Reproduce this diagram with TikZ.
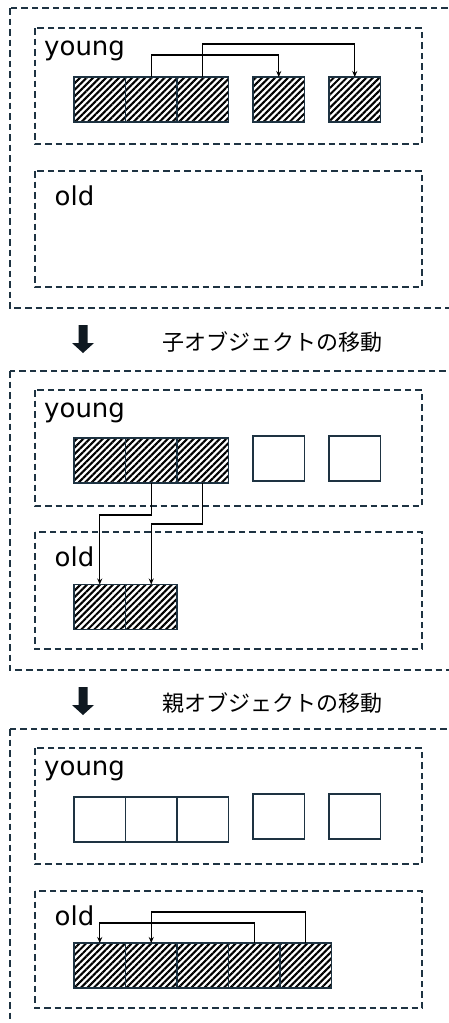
\documentclass[tikz,border=0pt]{standalone}
\usepackage{fontspec}
\setmainfont{DejaVu Sans}
\newfontfamily\jpfont{Noto Sans CJK JP}
\usetikzlibrary{patterns.meta,arrows.meta}
\definecolor{frame}{HTML}{1E3342}
\tikzset{
 region/.style={draw=frame, line width=1.3pt, dash pattern=on 6.5pt off 4pt},
 cell/.style={draw=frame, line width=1.3pt, minimum width=51.5pt, minimum height=45pt, inner sep=0pt, outer sep=0pt},
 live/.style={cell, pattern={Lines[angle=45,distance=4.6pt,line width=2.1pt]}},
 free/.style={cell, fill=white},
 lbl/.style={font=\fontsize{26}{30}\selectfont, inner sep=0pt, anchor=base west},
 captiontext/.style={font=\jpfont\fontsize{22}{26}\selectfont, inner sep=0pt},
 ref/.style={line width=1.4pt, -{Stealth[length=6pt,width=5pt]}},
 bigarrow/.style={fill=frame!50!black},
}
\begin{document}
\begin{tikzpicture}[x=1pt,y=-1pt]
\useasboundingbox (0,0) rectangle (449,1023);
\clip (0,0) rectangle (449,1023);
\fill[white] (0,0) rectangle (449,1023);
% ---------- stage 1 ----------
\draw[region] (10,8) rectangle (480,308);
\draw[region] (35,28) rectangle (422,144);
\draw[region] (35,171) rectangle (422,287);
\node[lbl] (ty1) at (44,55) {young};
\node[lbl] (to1) at (54.5,205) {old};
\node[live] (a1) at (99.75,99.5) {};
\node[live] (a2) at (151.25,99.5) {};
\node[live] (a3) at (202.75,99.5) {};
\node[live] (a4) at (278.75,99.5) {};
\node[live] (a5) at (354.75,99.5) {};
\draw[ref] (a2.north) -- ++(0,-22) -| (a4.north);
\draw[ref] (a3.north) -- ++(0,-33) -| (a5.north);
% arrow + caption 1
\fill[bigarrow] (78.5,325) -- (87.5,325) -- (87.5,343) -- (94,343) -- (83,353) -- (72,343) -- (78.5,343) -- cycle;
\node[captiontext] (c1) at (272,342) {子オブジェクトの移動};
% ---------- stage 2 ----------
\draw[region] (10,371) rectangle (480,670);
\draw[region] (35,390) rectangle (422,506);
\draw[region] (35,532) rectangle (422,649);
\node[lbl] (ty2) at (44,417) {young};
\node[lbl] (to2) at (54.5,566) {old};
\node[live] (b1) at (99.75,460.5) {};
\node[live] (b2) at (151.25,460.5) {};
\node[live] (b3) at (202.75,460.5) {};
\node[free] (b4) at (278.75,458.5) {};
\node[free] (b5) at (354.75,458.5) {};
\node[live] (d1) at (99.75,607) {};
\node[live] (d2) at (151.25,607) {};
\draw[ref] (b2.south) -- ++(0,32) -| (d1.north);
\draw[ref] (b3.south) -- ++(0,41) -| (d2.north);
% arrow + caption 2
\fill[bigarrow] (78.5,687) -- (87.5,687) -- (87.5,705) -- (94,705) -- (83,715) -- (72,705) -- (78.5,705) -- cycle;
\node[captiontext] (c2) at (272,703) {親オブジェクトの移動};
% ---------- stage 3 ----------
\draw[region] (10,729) rectangle (480,1060);
\draw[region] (35,748) rectangle (422,864);
\draw[region] (35,891) rectangle (422,1008);
\node[lbl] (ty3) at (44,775) {young};
\node[lbl] (to3) at (54.5,925) {old};
\node[free] (e1) at (99.75,819.5) {};
\node[free] (e2) at (151.25,819.5) {};
\node[free] (e3) at (202.75,819.5) {};
\node[free] (e4) at (278.75,816.5) {};
\node[free] (e5) at (354.75,816.5) {};
\node[live] (f1) at (99.75,965.5) {};
\node[live] (f2) at (151.25,965.5) {};
\node[live] (f3) at (202.75,965.5) {};
\node[live] (f4) at (254.25,965.5) {};
\node[live] (f5) at (305.75,965.5) {};
\draw[ref] (f4.north) -- ++(0,-20) -| (f1.north);
\draw[ref] (f5.north) -- ++(0,-31) -| (f2.north);
\end{tikzpicture}
\end{document}
